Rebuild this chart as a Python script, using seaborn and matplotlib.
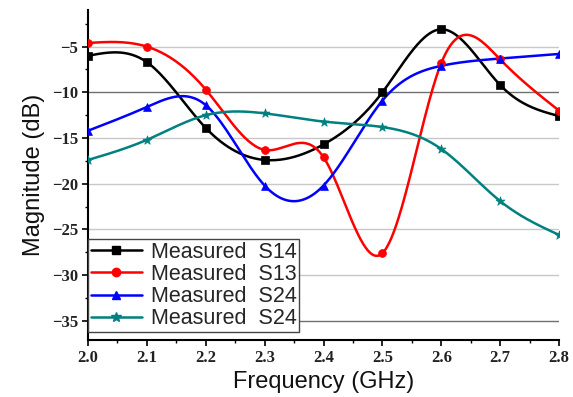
import numpy as np
import pandas as pd
import matplotlib
matplotlib.use("Agg")
import matplotlib.pyplot as plt
import seaborn as sns
from matplotlib.lines import Line2D
from matplotlib.ticker import MultipleLocator

freq = [2.0, 2.1, 2.2, 2.3, 2.4, 2.5, 2.6, 2.7, 2.8]
s14 = [-6.0, -6.7, -13.9, -17.4, -15.7, -10.0, -3.1, -9.2, -12.6]
s13 = [-4.6, -5.0, -9.7, -16.3, -17.1, -27.6, -6.8, -6.4, -12.0]
s24a = [-14.2, -11.6, -11.4, -20.2, -20.2, -10.9, -7.1, -6.3, -5.8]
s24b = [-17.4, -15.2, -12.5, -12.3, -13.2, -13.8, -16.2, -21.9, -25.6]
labels = ["Measured  S14", "Measured  S13", "Measured  S24", "Measured  S24"]
colors = ["#000000", "#ff0000", "#0000ff", "#008080"]
markers = ["s", "o", "^", "*"]


def natural_spline(x, y, n=400):
    x = np.asarray(x, float)
    y = np.asarray(y, float)
    m = len(x)
    h = np.diff(x)
    A = np.zeros((m, m))
    b = np.zeros(m)
    A[0, 0] = 1
    A[-1, -1] = 1
    for i in range(1, m - 1):
        A[i, i - 1] = h[i - 1]
        A[i, i] = 2 * (h[i - 1] + h[i])
        A[i, i + 1] = h[i]
        b[i] = 3 * ((y[i + 1] - y[i]) / h[i] - (y[i] - y[i - 1]) / h[i - 1])
    c = np.linalg.solve(A, b)
    bb = (y[1:] - y[:-1]) / h - h * (2 * c[:-1] + c[1:]) / 3
    d = (c[1:] - c[:-1]) / (3 * h)
    xs = np.linspace(x[0], x[-1], n)
    idx = np.clip(np.searchsorted(x, xs) - 1, 0, m - 2)
    dx = xs - x[idx]
    ys = y[idx] + bb[idx] * dx + c[idx] * dx ** 2 + d[idx] * dx ** 3
    return xs, ys


sns.set_theme(style="white")
plt.rcParams["font.family"] = ["Liberation Sans", "DejaVu Sans"]

fig = plt.figure(figsize=(5.73, 3.97), dpi=100)
ax = fig.add_axes([0.1536, 0.1436, 0.822, 0.831])

series = [s14, s13, s24a, s24b]
handles = []
for vals, lab, col, mk in zip(series, labels, colors, markers):
    xs, ys = natural_spline(freq, vals)
    sns.lineplot(x=xs, y=ys, color=col, lw=1.8, ax=ax, legend=False)
    ms = 45 if mk == "*" else 32
    sns.scatterplot(x=freq, y=vals, color=col, marker=mk, s=ms, edgecolor=col,
                    linewidth=0.5, ax=ax, legend=False, zorder=5)
    handles.append(Line2D([0], [0], color=col, lw=1.8, marker=mk,
                          markersize=7 if mk == "*" else 6, label=lab))

ax.set_xlim(2.0, 2.8)
ax.set_ylim(-37.1, -1.0)
ax.xaxis.set_major_locator(MultipleLocator(0.1))
ax.xaxis.set_minor_locator(MultipleLocator(0.05))
ax.set_yticks([-35, -30, -25, -20, -15, -10, -5])
ax.yaxis.set_minor_locator(MultipleLocator(2.5))

ax.grid(axis="y", which="major", color="#c8c8c8", lw=1.0)
for gl, t in zip(ax.get_ygridlines(), ax.get_yticks()):
    if t in (-10, -35):
        gl.set_color("#707070")
ax.set_axisbelow(True)

for sp in ["top", "right"]:
    ax.spines[sp].set_visible(False)
for sp in ["left", "bottom"]:
    ax.spines[sp].set_color("black")
    ax.spines[sp].set_linewidth(1.5)

ax.tick_params(axis="both", which="major", direction="out", length=4, width=1.2,
               color="black", bottom=True, left=True, pad=3)
ax.tick_params(axis="both", which="minor", direction="out", length=2.5, width=1.0,
               color="black", bottom=True, left=True)
ax.set_xticklabels([f"{v:.1f}" for v in ax.get_xticks()])
for lab in ax.get_xticklabels() + ax.get_yticklabels():
    lab.set_family(["Liberation Serif", "DejaVu Serif"])
    lab.set_fontweight("bold")
    lab.set_fontsize(12)
    lab.set_color("#222222")

ax.set_xlabel("Frequency (GHz)", fontsize=17, color="#111111", labelpad=4)
ax.set_ylabel("Magnitude (dB)", fontsize=17, color="#111111", labelpad=5)

leg = ax.legend(handles=handles, loc="upper left", bbox_to_anchor=(0.0, 0.306),
                borderaxespad=0, fontsize=15.5, frameon=True, fancybox=False,
                handlelength=2.4, handletextpad=0.4, labelspacing=0.06,
                borderpad=0.12, edgecolor="#444444")
leg.get_frame().set_linewidth(1.0)
leg.get_frame().set_alpha(1.0)

fig.savefig("out.png", dpi=100)
